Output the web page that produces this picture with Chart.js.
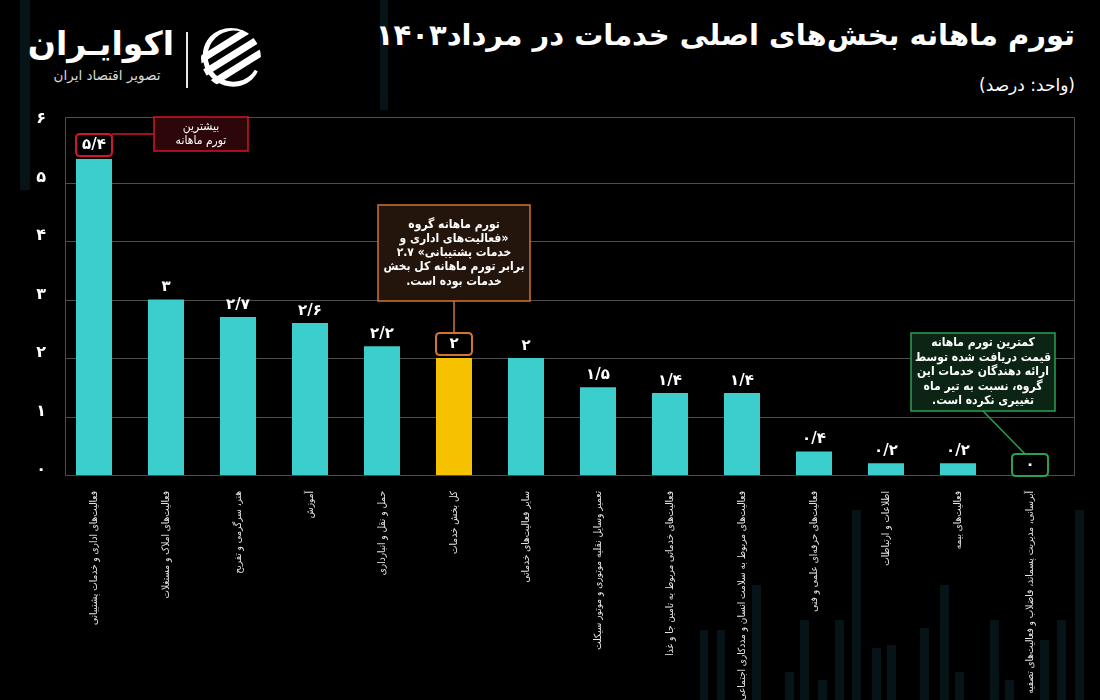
<!DOCTYPE html>
<html>
<head>
<meta charset="utf-8">
<script src="https://cdn.jsdelivr.net/npm/chart.js@4.4.1/dist/chart.umd.min.js"></script>
<style>
  html, body { margin:0; padding:0; background:#000; }
  body { width:1100px; height:700px; position:relative; overflow:hidden; font-family:"DejaVu Sans", sans-serif; }
  #wrap { position:absolute; left:0; top:0; width:1100px; height:700px; }
  .deco { position:absolute; background:#061418; }
  .title { position:absolute; right:25px; top:18px; color:#fff; font-weight:bold; font-size:29px; direction:rtl; white-space:nowrap; }
  .sub { position:absolute; right:25px; top:75px; color:#fff; font-size:17px; direction:rtl; white-space:nowrap; }
  .logo1 { position:absolute; left:40px; top:24px; width:134px; text-align:center; color:#fff; font-weight:bold; font-size:33px; direction:rtl; white-space:nowrap; }
  .logo2 { position:absolute; left:40px; top:67px; width:134px; text-align:center; color:#d8d8d8; font-size:13.5px; direction:rtl; white-space:nowrap; }
  .sep { position:absolute; left:186px; top:32px; width:2px; height:56px; background:#e8e8e8; }
  .icon { position:absolute; left:199px; top:27px; }
</style>
</head>
<body>
<div class="deco" style="left:20px;top:0;width:10px;height:190px"></div>
<div class="deco" style="left:380px;top:0;width:8px;height:110px"></div>
<div class="deco" style="left:700px;top:630px;width:8px;height:70px"></div>
<div class="deco" style="left:717px;top:630px;width:8px;height:70px"></div>
<div class="deco" style="left:752px;top:585px;width:9px;height:115px"></div>
<div class="deco" style="left:785px;top:672px;width:9px;height:28px"></div>
<div class="deco" style="left:800px;top:620px;width:9px;height:80px"></div>
<div class="deco" style="left:818px;top:680px;width:9px;height:20px"></div>
<div class="deco" style="left:835px;top:620px;width:9px;height:80px"></div>
<div class="deco" style="left:852px;top:510px;width:9px;height:190px"></div>
<div class="deco" style="left:872px;top:648px;width:9px;height:52px"></div>
<div class="deco" style="left:887px;top:645px;width:9px;height:55px"></div>
<div class="deco" style="left:920px;top:628px;width:9px;height:72px"></div>
<div class="deco" style="left:940px;top:585px;width:9px;height:115px"></div>
<div class="deco" style="left:955px;top:672px;width:9px;height:28px"></div>
<div class="deco" style="left:990px;top:620px;width:9px;height:80px"></div>
<div class="deco" style="left:1005px;top:680px;width:9px;height:20px"></div>
<div class="deco" style="left:1040px;top:640px;width:9px;height:60px"></div>
<div class="deco" style="left:1057px;top:620px;width:9px;height:80px"></div>
<div class="deco" style="left:1075px;top:510px;width:9px;height:190px"></div>

<div class="title">تورم ماهانه بخش‌های اصلی خدمات در مرداد۱۴۰۳</div>
<div class="sub">(واحد: درصد)</div>
<div class="logo1">اکوایـران</div>
<div class="logo2">تصویر اقتصاد ایران</div>
<div class="sep"></div>
<svg class="icon" width="64" height="62" viewBox="0 0 64 62">
  <defs><clipPath id="c"><circle cx="32" cy="31" r="30"/></clipPath></defs>
  <g clip-path="url(#c)">
    <path d="M50 6 A28 28 0 1 0 58 44" fill="none" stroke="#fff" stroke-width="5"/>
    <g transform="rotate(-32 32 31)" fill="#fff">
      <rect x="-5" y="13" width="74" height="7" rx="3.5"/>
      <rect x="-5" y="26" width="74" height="7" rx="3.5"/>
      <rect x="-5" y="39" width="74" height="7" rx="3.5"/>
    </g>
  </g>
</svg>

<div id="wrap"><canvas id="chart" width="1100" height="700"></canvas></div>

<script>
// ---------- DATA ----------
const categories = [
  'فعالیت‌های اداری و خدمات پشتیبانی',
  'فعالیت‌های املاک و مستغلات',
  'هنر، سرگرمی و تفریح',
  'آموزش',
  'حمل و نقل و انبارداری',
  'کل بخش خدمات',
  'سایر فعالیت‌های خدماتی',
  'تعمیر وسایل نقلیه موتوری و موتور سیکلت',
  'فعالیت‌های خدماتی مربوط به تامین جا و غذا',
  'فعالیت‌های مربوط به سلامت انسان و مددکاری اجتماعی',
  'فعالیت‌های حرفه‌ای علمی و فنی',
  'اطلاعات و ارتباطات',
  'فعالیت‌های بیمه',
  'آبرسانی، مدیریت پسماند، فاضلاب و فعالیت‌های تصفیه'
];
const values = [5.4, 3, 2.7, 2.6, 2.2, 2, 2, 1.5, 1.4, 1.4, 0.4, 0.2, 0.2, 0];
const highlightIndex = 5;
const maxIndex = 0;
const minIndex = 13;
const yTickValues = [0, 1, 2, 3, 4, 5, 6];
const yTickLabels = ['۰', '۱', '۲', '۳', '۴', '۵', '۶'];
const maxNote = ['بیشترین', 'تورم ماهانه'];
const totalNote = ['تورم ماهانه گروه', '«فعالیت‌های اداری و', 'خدمات پشتیبانی» ۲.۷', 'برابر تورم ماهانه کل بخش', 'خدمات بوده است.'];
const minNote = ['کمترین تورم ماهانه', 'قیمت دریافت شده توسط', 'ارائه دهندگان خدمات این', 'گروه، نسبت به تیر ماه', 'تغییری نکرده است.'];

// ---------- HELPERS ----------
const faDigits = '۰۱۲۳۴۵۶۷۸۹';
function toFa(v) {
  return String(v).replace(/[0-9]/g, d => faDigits[+d]).replace('.', '/');
}
const CYAN = '#3ccdcd', YELLOW = '#f6c200';
const FONT = '"DejaVu Sans", sans-serif';
const CFONT = '"DejaVu Sans Condensed", "DejaVu Sans", sans-serif';

function roundRect(ctx, x, y, w, h, r) {
  ctx.beginPath();
  ctx.moveTo(x + r, y);
  ctx.lineTo(x + w - r, y); ctx.quadraticCurveTo(x + w, y, x + w, y + r);
  ctx.lineTo(x + w, y + h - r); ctx.quadraticCurveTo(x + w, y + h, x + w - r, y + h);
  ctx.lineTo(x + r, y + h); ctx.quadraticCurveTo(x, y + h, x, y + h - r);
  ctx.lineTo(x, y + r); ctx.quadraticCurveTo(x, y, x + r, y);
  ctx.closePath();
}

const gridPlugin = {
  id: 'gridFrame',
  beforeDatasetsDraw(chart) {
    const ctx = chart.ctx, ys = chart.scales.y, ca = chart.chartArea;
    const L = 65.5, R = 1074.5, T = Math.round(ca.top - 7) + 0.5, B = Math.round(ys.getPixelForValue(0)) + 0.5;
    ctx.save();
    ctx.strokeStyle = '#4d4d4d';
    ctx.lineWidth = 1;
    ctx.beginPath();
    for (let v = 1; v <= 5; v++) {
      const y = Math.round(ys.getPixelForValue(v)) + 0.5;
      ctx.moveTo(L, y); ctx.lineTo(R, y);
    }
    ctx.moveTo(L, T); ctx.lineTo(R, T);
    ctx.moveTo(L, B); ctx.lineTo(R, B);
    ctx.moveTo(L, T); ctx.lineTo(L, B);
    ctx.moveTo(R, T); ctx.lineTo(R, B);
    ctx.stroke();
    ctx.restore();
  }
};

function drawNote(ctx, lines, x, y, w, h, fill, stroke, lineH, font) {
  ctx.save();
  ctx.fillStyle = fill; ctx.strokeStyle = stroke; ctx.lineWidth = 1.5;
  ctx.fillRect(x, y, w, h);
  ctx.strokeRect(x, y, w, h);
  ctx.fillStyle = '#fff';
  ctx.font = font;
  ctx.direction = 'rtl';
  ctx.textAlign = 'center';
  ctx.textBaseline = 'middle';
  const cx = x + w / 2;
  const startY = y + h / 2 - (lines.length - 1) * lineH / 2;
  lines.forEach((t, i) => ctx.fillText(t, cx, startY + i * lineH));
  ctx.restore();
}

const labelPlugin = {
  id: 'valueLabels',
  afterDatasetsDraw(chart) {
    const ctx = chart.ctx;
    const meta = chart.getDatasetMeta(0);
    const boxes = {};
    boxes[maxIndex] = '#d0162a';
    boxes[highlightIndex] = '#d2742e';
    boxes[minIndex] = '#2aa050';
    const pos = [];
    ctx.save();
    meta.data.forEach((bar, i) => {
      const off = i === minIndex ? 10 : (i === maxIndex || i === highlightIndex ? 14 : 12);
      const y = bar.y - off;
      pos[i] = { x: bar.x, y };
      if (boxes[i]) {
        ctx.strokeStyle = boxes[i];
        ctx.lineWidth = 2;
        roundRect(ctx, bar.x - 18, y - 11, 36, 22, 4);
        ctx.stroke();
      }
      ctx.fillStyle = '#fff';
      ctx.font = 'bold 15px ' + FONT;
      ctx.textAlign = 'center';
      ctx.textBaseline = 'middle';
      ctx.fillText(toFa(values[i]), bar.x, y);
    });
    // connectors
    ctx.lineWidth = 1.5;
    ctx.strokeStyle = '#d0162a';
    ctx.beginPath();
    ctx.moveTo(pos[maxIndex].x + 18, pos[maxIndex].y - 11);
    ctx.lineTo(154, pos[maxIndex].y - 11);
    ctx.stroke();
    ctx.strokeStyle = '#d2742e';
    ctx.beginPath();
    ctx.moveTo(pos[highlightIndex].x, 301);
    ctx.lineTo(pos[highlightIndex].x, pos[highlightIndex].y - 11);
    ctx.stroke();
    ctx.strokeStyle = '#2aa050';
    ctx.beginPath();
    ctx.moveTo(983, 411);
    ctx.lineTo(pos[minIndex].x - 5, pos[minIndex].y - 11);
    ctx.stroke();
    ctx.restore();
    drawNote(ctx, maxNote, 154, 117, 94, 34, '#2c0608', '#d0162a', 14, '12px ' + CFONT);
    drawNote(ctx, totalNote, 378, 205, 152, 96, '#24150c', '#d2742e', 14.2, 'bold 12px ' + CFONT);
    drawNote(ctx, minNote, 911, 333, 144, 78, '#0b2414', '#2aa050', 14.5, 'bold 12px ' + CFONT);
  }
};

new Chart(document.getElementById('chart'), {
  type: 'bar',
  data: {
    labels: categories,
    datasets: [{
      data: values,
      backgroundColor: values.map((v, i) => i === highlightIndex ? YELLOW : CYAN),
      barPercentage: 0.5,
      categoryPercentage: 1.0,
      borderWidth: 0
    }]
  },
  options: {
    responsive: false,
    animation: false,
    devicePixelRatio: 1,
    layout: { padding: { left: 0, right: 34, top: 124, bottom: 0 } },
    plugins: { legend: { display: false }, tooltip: { enabled: false } },
    scales: {
      x: {
        grid: { display: false },
        border: { display: false },
        ticks: {
          color: '#e4e4e4',
          font: { family: CFONT, size: 10 },
          minRotation: 90, maxRotation: 90,
          autoSkip: false,
          padding: 8
        },
        afterFit(s) { s.height = 225; }
      },
      y: {
        min: 0, max: 6,
        grid: { display: false },
        border: { display: false },
        afterBuildTicks(s) { s.ticks = yTickValues.map(v => ({ value: v })); },
        ticks: {
          color: '#fff',
          font: { family: FONT, size: 16, weight: 'bold' },
          padding: 4,
          labelOffset: -5,
          callback: (v, i) => yTickLabels[i]
        },
        afterFit(s) { s.width = 58; }
      }
    }
  },
  plugins: [gridPlugin, labelPlugin]
});
</script>
</body>
</html>
